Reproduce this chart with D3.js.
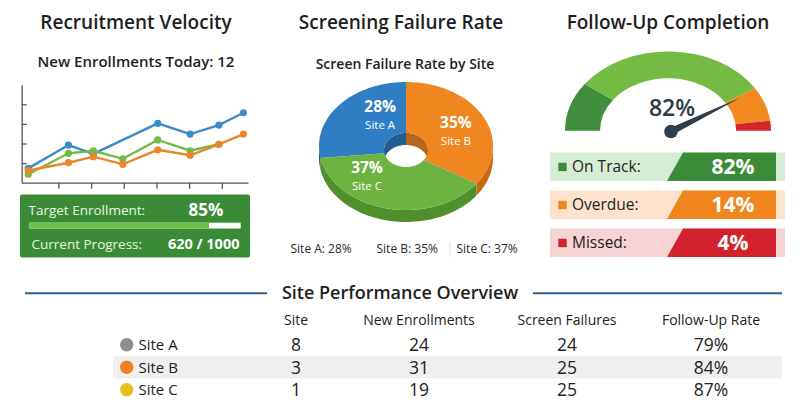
<!DOCTYPE html>
<html>
<head>
<meta charset="utf-8">
<script src="https://cdn.jsdelivr.net/npm/d3@7"></script>
<style>
  body { margin: 0; background: #fff; }
  svg { display: block; font-family: 'Open Sans', sans-serif; }
</style>
</head>
<body>
<svg id="chart" width="800" height="412"></svg>
<script>
// Recruitment velocity
const dayTicks = [1, 2, 3, 4, 5, 6]
const dayPoints = [0.08, 1.31, 2.07, 2.97, 4.04, 5.03, 5.91, 6.66]
const velocityBlue = [0.73, 1.92, 1.47, null, 3.03, 2.48, 2.94, 3.57]
const velocityGreen = [0.43, 1.5, 1.63, 1.22, 2.18, 1.63, 1.96, null]
const velocityOrange = [0.62, 1.02, 1.33, 0.94, 1.68, 1.4, 1.96, 2.48]
const enrollmentsToday = 12
const targetEnrollment = 85
const currentProgress = 620
const progressGoal = 1000

// Screening failure
const siteNames = ['Site A', 'Site B', 'Site C']
const failureRates = [28, 35, 37]

// Follow-up completion
const followUpLabels = ['On Track', 'Overdue', 'Missed']
const followUpValues = [82, 14, 4]
const gaugeBands = [20, 62, 14, 4] // on track shown as dark + light green
const followUpOverall = 82

// Site performance table
const tableHeaders = ['Site', 'New Enrollments', 'Screen Failures', 'Follow-Up Rate']
const siteCounts = [8, 3, 1]
const newEnrollments = [24, 31, 19]
const screenFailures = [24, 25, 25]
const followUpRates = [79, 84, 87]

const svg = d3.select('#chart')

drawTitles()
drawVelocity()
drawPie()
drawGauge()
drawTable()

function drawTitles () {
  const titles = [['Recruitment Velocity', 136], ['Screening Failure Rate', 401], ['Follow-Up Completion', 668]]
  svg.selectAll('.title').data(titles).join('text')
    .attr('class', 'title')
    .attr('x', d => d[1]).attr('y', 29)
    .attr('text-anchor', 'middle')
    .attr('font-size', 19).attr('font-weight', 600).attr('fill', '#1e1e1e')
    .text(d => d[0])
}

function drawVelocity () {
  svg.append('text')
    .attr('x', 136).attr('y', 67).attr('text-anchor', 'middle')
    .attr('font-size', 15).attr('font-weight', 600).attr('fill', '#1e1e1e')
    .text(`New Enrollments Today: ${enrollmentsToday}`)

  const x = d3.scaleLinear().domain([-0.12, 6.8]).range([21.7, 248])
  const y = d3.scaleLinear().domain([0, 5]).range([182.7, 84.7])

  svg.append('g')
    .attr('transform', `translate(${x.range()[0]},0)`)
    .call(d3.axisLeft(y).tickValues([1, 2, 3, 4]).tickSize(-5).tickSizeOuter(0).tickFormat(''))
    .call(g => g.selectAll('path, line').attr('stroke', '#555').attr('stroke-width', 1.3))

  svg.append('g')
    .attr('transform', `translate(0,${y.range()[0]})`)
    .call(d3.axisBottom(x).tickValues(dayTicks).tickSize(6).tickSizeOuter(0).tickFormat(''))
    .call(g => g.selectAll('path, line').attr('stroke', '#555').attr('stroke-width', 1.3))

  const series = [
    { values: velocityBlue, color: '#3b8cc6' },
    { values: velocityGreen, color: '#74b944' },
    { values: velocityOrange, color: '#ea872b' }
  ]
  const line = d3.line().x(d => x(d[0])).y(d => y(d[1]))

  series.forEach(s => {
    const pts = dayPoints.map((d, i) => [d, s.values[i]]).filter(p => p[1] != null)
    svg.append('path').datum(pts)
      .attr('d', line).attr('fill', 'none')
      .attr('stroke', s.color).attr('stroke-width', 2.4)
    svg.append('g').selectAll('circle').data(pts).join('circle')
      .attr('cx', d => x(d[0])).attr('cy', d => y(d[1])).attr('r', 3.6)
      .attr('fill', s.color)
  })

  // Target enrollment box
  svg.append('rect')
    .attr('x', 20).attr('y', 194.5).attr('width', 230).attr('height', 63).attr('rx', 2)
    .attr('fill', '#3a8b36')
  svg.append('text')
    .attr('x', 28.5).attr('y', 215).attr('font-size', 13.5).attr('fill', '#eaf5e4')
    .text('Target Enrollment:')
  svg.append('text')
    .attr('x', 206).attr('y', 216).attr('text-anchor', 'middle')
    .attr('font-size', 17).attr('font-weight', 700).attr('fill', '#fff')
    .text(`${targetEnrollment}%`)

  const px = d3.scaleLinear().domain([0, 100]).range([29.3, 240.7])
  svg.append('rect')
    .attr('x', px(0)).attr('y', 222.7).attr('width', px(100) - px(0)).attr('height', 5.8)
    .attr('fill', '#fff')
  svg.append('rect')
    .attr('x', px(0)).attr('y', 222.7).attr('width', px(targetEnrollment) - px(0)).attr('height', 5.8)
    .attr('fill', '#6cc046')

  svg.append('text')
    .attr('x', 31.5).attr('y', 248.5).attr('font-size', 13.5).attr('fill', '#eaf5e4')
    .text('Current Progress:')
  svg.append('text')
    .attr('x', 239.5).attr('y', 249).attr('text-anchor', 'end')
    .attr('font-size', 14.5).attr('font-weight', 700).attr('fill', '#fff')
    .text(`${currentProgress} / ${progressGoal}`)
}

function ellipsePoint (c, a, dy) {
  return [c.cx + c.rx * Math.sin(a), c.cy - c.ry * Math.cos(a) + dy]
}

function arcPoints (c, a0, a1, dy = 0) {
  const n = Math.max(2, Math.ceil(Math.abs(a1 - a0) / 0.04))
  return d3.range(n + 1).map(i => ellipsePoint(c, a0 + (a1 - a0) * i / n, dy))
}

function drawPie () {
  svg.append('text')
    .attr('x', 405).attr('y', 68.5).attr('text-anchor', 'middle')
    .attr('font-size', 14).attr('font-weight', 600).attr('fill', '#1e1e1e')
    .text('Screen Failure Rate by Site')

  const outer = { cx: 406, cy: 146, rx: 87, ry: 64 }
  const inner = { cx: 406, cy: 150, rx: 22, ry: 17 }
  const depth = 12
  const topColors = ['#2f7dc3', '#f0861f', '#6cb33f']
  const wallColors = ['#1f5a94', '#c8690f', '#4f902c']
  const innerColors = ['#245d94', '#b8661d', '#4a862a']
  const total = d3.sum(failureRates)
  const start = -2 * Math.PI * failureRates[0] / total

  const slices = d3.pie().sort(null).startAngle(start).endAngle(start + 2 * Math.PI)(failureRates)
  const line = d3.line()
  const g = svg.append('g')

  // outer side walls (front half)
  slices.forEach((d, i) => {
    [[Math.PI / 2, 1.5 * Math.PI], [-1.5 * Math.PI, -Math.PI / 2]].forEach(([lo, hi]) => {
      const s = Math.max(d.startAngle, lo)
      const e = Math.min(d.endAngle, hi)
      if (e <= s) return
      const pts = arcPoints(outer, s, e).concat(arcPoints(outer, e, s, depth))
      g.append('path').attr('d', line(pts) + 'Z').attr('fill', wallColors[i])
    })
  })

  // inner walls seen through the hole (back half)
  slices.forEach((d, i) => {
    [[-Math.PI / 2, Math.PI / 2], [1.5 * Math.PI, 2.5 * Math.PI]].forEach(([lo, hi]) => {
      const s = Math.max(d.startAngle, lo)
      const e = Math.min(d.endAngle, hi)
      if (e <= s) return
      const pts = arcPoints(inner, s, e).concat(arcPoints(inner, e, s, depth))
      g.append('path').attr('d', line(pts) + 'Z').attr('fill', innerColors[i])
    })
  })

  // top faces
  slices.forEach((d, i) => {
    const pts = arcPoints(outer, d.startAngle, d.endAngle).concat(arcPoints(inner, d.endAngle, d.startAngle))
    g.append('path').attr('d', line(pts) + 'Z').attr('fill', topColors[i])
  })

  const labelOffsets = [[13, -10], [5, -1], [-28, -9]]
  slices.forEach((d, i) => {
    const mid = (d.startAngle + d.endAngle) / 2
    const [lx, ly] = ellipsePoint({ cx: outer.cx, cy: outer.cy, rx: outer.rx * 0.58, ry: outer.ry * 0.58 }, mid, 0)
    const cx = lx + labelOffsets[i][0]
    const cy = ly + labelOffsets[i][1]
    g.append('text')
      .attr('x', cx).attr('y', cy).attr('text-anchor', 'middle')
      .attr('font-size', 15.5).attr('font-weight', 700).attr('fill', '#fff')
      .text(`${failureRates[i]}%`)
    g.append('text')
      .attr('x', cx).attr('y', cy + 17).attr('text-anchor', 'middle')
      .attr('font-size', 11.5).attr('fill', '#fff')
      .text(siteNames[i])
  })

  // legend row
  const legendX = [290.5, 376.5, 456.5]
  svg.selectAll('.pieLegend').data(siteNames).join('text')
    .attr('class', 'pieLegend')
    .attr('x', (d, i) => legendX[i]).attr('y', 253)
    .attr('font-size', 12).attr('fill', '#2a2a2a')
    .text((d, i) => `${d}: ${failureRates[i]}%`)
  svg.append('line')
    .attr('x1', 450).attr('x2', 450).attr('y1', 242).attr('y2', 257)
    .attr('stroke', '#ddd').attr('stroke-width', 1)
}

function drawGauge () {
  const cx = 668
  const cy = 130.7
  const squash = 0.77
  const bandColors = ['#3e8e3b', '#74bb44', '#f28a1f', '#d7262b']
  const arc = d3.arc().innerRadius(68).outerRadius(103)
  const pie = d3.pie().sort(null).startAngle(-Math.PI / 2).endAngle(Math.PI / 2)

  svg.append('g')
    .attr('transform', `translate(${cx},${cy}) scale(1,${squash})`)
    .selectAll('path').data(pie(gaugeBands)).join('path')
    .attr('d', arc).attr('fill', (d, i) => bandColors[i])

  svg.append('text')
    .attr('x', 672).attr('y', 115.5).attr('text-anchor', 'middle')
    .attr('font-size', 23).attr('font-weight', 600).attr('fill', '#2f3a44')
    .text(`${followUpOverall}%`)

  const angle = d3.scaleLinear().domain([0, 100]).range([-Math.PI / 2, Math.PI / 2])
  const a = angle(followUpOverall)
  let dx = Math.sin(a)
  let dy = -Math.cos(a) * squash
  const len = Math.hypot(dx, dy)
  dx /= len
  dy /= len
  const px = 671
  const py = 131.5
  const L = 77
  const needle = [[px - dy * 3.6, py + dx * 3.6], [px + dx * L, py + dy * L], [px + dy * 3.6, py - dx * 3.6]]
  svg.append('path').attr('d', d3.line()(needle) + 'Z').attr('fill', '#2c3d4b')
  svg.append('circle').attr('cx', px).attr('cy', py).attr('r', 6.8).attr('fill', '#2c3d4b')

  const rows = d3.scaleBand().domain(followUpLabels).range([152.5, 257]).paddingInner(0.25)
  const light = ['#d7ecd4', '#fde3cd', '#f6d4d6']
  const dark = ['#3b8c37', '#f0841d', '#d2232c']

  const row = svg.append('g').selectAll('g').data(followUpLabels).join('g')
    .attr('transform', d => `translate(0,${rows(d)})`)
  const h = rows.bandwidth()

  row.append('rect')
    .attr('x', 550).attr('width', 235).attr('height', h)
    .attr('fill', (d, i) => light[i])
  row.append('path')
    .attr('d', d3.line()([[683, 0], [776, 0], [776, h], [667, h]]) + 'Z')
    .attr('fill', (d, i) => dark[i])
  row.append('rect')
    .attr('x', 558.3).attr('y', h / 2 - 4).attr('width', 8.4).attr('height', 8.4)
    .attr('fill', (d, i) => dark[i])
  row.append('text')
    .attr('x', 572).attr('y', h / 2 + 5.5)
    .attr('font-size', 15.5).attr('fill', '#222')
    .text(d => `${d}:`)
  row.append('text')
    .attr('x', 733).attr('y', h / 2 + 7.5).attr('text-anchor', 'middle')
    .attr('font-size', 21).attr('font-weight', 700).attr('fill', '#fff')
    .text((d, i) => `${followUpValues[i]}%`)
}

function drawTable () {
  svg.append('line').attr('x1', 25).attr('x2', 267).attr('y1', 293.3).attr('y2', 293.3)
    .attr('stroke', '#2f5f8a').attr('stroke-width', 2)
  svg.append('line').attr('x1', 533).attr('x2', 782).attr('y1', 293.3).attr('y2', 293.3)
    .attr('stroke', '#2f5f8a').attr('stroke-width', 2)
  svg.append('text')
    .attr('x', 400).attr('y', 299).attr('text-anchor', 'middle')
    .attr('font-size', 18).attr('font-weight', 600).attr('fill', '#1e1e1e')
    .text('Site Performance Overview')

  const colX = [296, 419, 567, 711]
  svg.selectAll('.hdr').data(tableHeaders).join('text')
    .attr('class', 'hdr')
    .attr('x', (d, i) => colX[i]).attr('y', 324.5).attr('text-anchor', 'middle')
    .attr('font-size', 14).attr('fill', '#222')
    .text(d => d)

  const rows = d3.scaleBand().domain(siteNames).range([333.5, 401])
  const dotColors = ['#8a918c', '#f0801f', '#e6c020']

  svg.append('rect')
    .attr('x', 113).attr('y', rows('Site B')).attr('width', 669).attr('height', rows.bandwidth())
    .attr('fill', '#efefef')

  const row = svg.append('g').selectAll('g').data(siteNames).join('g')
    .attr('transform', d => `translate(0,${rows(d) + rows.bandwidth() / 2})`)

  row.append('circle').attr('cx', 126.7).attr('cy', 0).attr('r', 6.7)
    .attr('fill', (d, i) => dotColors[i])
  row.append('text').attr('x', 138.5).attr('y', 5.5)
    .attr('font-size', 15).attr('fill', '#222')
    .text(d => d)

  const cells = [siteCounts, newEnrollments, screenFailures, followUpRates.map(v => `${v}%`)]
  cells.forEach((col, c) => {
    row.append('text')
      .attr('x', colX[c]).attr('y', 6.5).attr('text-anchor', 'middle')
      .attr('font-size', 17.5).attr('fill', '#222')
      .text((d, i) => col[i])
  })
}
</script>
</body>
</html>
